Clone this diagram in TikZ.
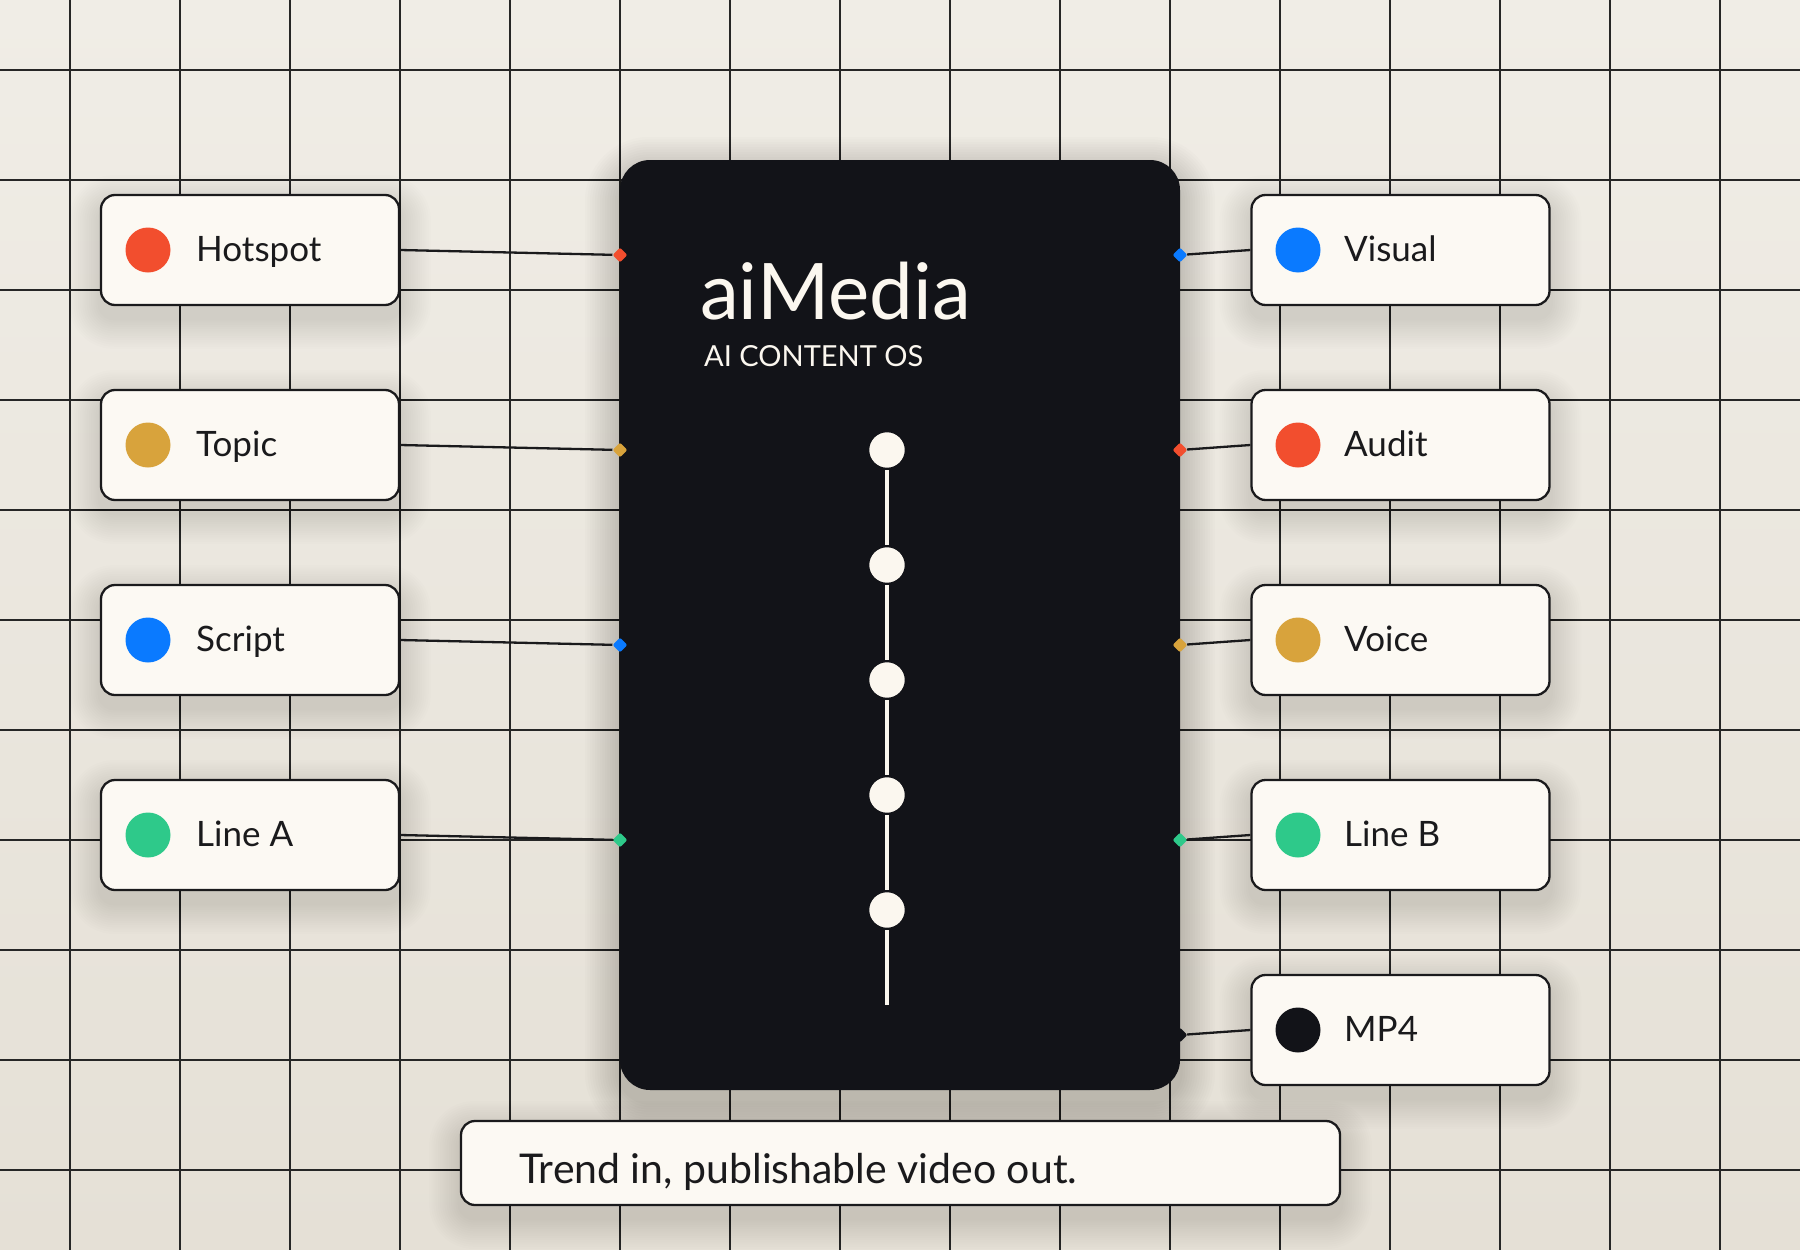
\documentclass[tikz,border=0pt]{standalone}
\usepackage{fontspec}
\setmainfont{Lato}
\usetikzlibrary{shapes.geometric}
\definecolor{bgtop}{HTML}{F0EDE6}
\definecolor{bgbot}{HTML}{E5E0D6}
\definecolor{gridc}{HTML}{262626}
\definecolor{cardfill}{HTML}{FCF9F3}
\definecolor{ink}{HTML}{1A1A1C}
\definecolor{coreblk}{HTML}{121318}
\definecolor{cream}{HTML}{FBF7EF}
\definecolor{cred}{HTML}{F24E2E}
\definecolor{cgold}{HTML}{D8A33C}
\definecolor{cblue}{HTML}{0A7AFF}
\definecolor{cgreen}{HTML}{2EC98A}
\pgfdeclarelayer{bgl}
\pgfdeclarelayer{shl}
\pgfsetlayers{bgl,shl,main}
\tikzset{
  gridline/.style={draw=gridc, line width=1.05pt},
  card/.style={draw=ink, line width=2.3pt, fill=cardfill, rounded corners=14pt,
    minimum width=298pt, minimum height=110pt, inner sep=0pt},
  corebox/.style={fill=coreblk, rounded corners=30pt, minimum width=560pt, minimum height=930pt, inner sep=0pt},
  dot/.style={circle, fill=#1, minimum size=45pt, inner sep=0pt},
  port/.style={diamond, fill=#1, minimum size=15pt, inner sep=0pt, rounded corners=2pt},
  wire/.style={draw=ink, line width=2.3pt},
  lbl/.style={anchor=base west, inner sep=0pt, text=ink, font=\fontsize{35pt}{42pt}\selectfont},
  stepdot/.style={circle, fill=cream, draw=coreblk, line width=2.5pt, minimum size=38pt, inner sep=0pt},
  rail/.style={draw=cream, line width=4pt},
}
% soft shadow: #1 node, #2 corner radius, #3 downward offset, #4 spread per step, #5 opacity per step
\newcommand\softshadow[5]{%
  \foreach \k in {1,...,14}{%
    \pgfmathsetmacro\rr{#2+#4*\k}%
    \pgfmathsetmacro\dd{#4*\k}%
    \fill[black, opacity=#5, rounded corners=\rr pt]
      ([shift={(-\dd,#3-\dd)}]#1.north west) rectangle ([shift={(\dd,#3+\dd)}]#1.south east);
  }}
\begin{document}
\begin{tikzpicture}[x=1pt,y=-1pt]
\useasboundingbox (0,0) rectangle (1800,1250);
\begin{pgfonlayer}{bgl}
\shade[top color=bgtop, bottom color=bgbot] (0,0) rectangle (1800,1250);
\foreach \i in {0,...,15} \draw[gridline] (70+110*\i,0) -- (70+110*\i,1250);
\foreach \j in {0,...,10} \draw[gridline] (0,70+110*\j) -- (1800,70+110*\j);
\end{pgfonlayer}

% central core
\node[corebox] (core) at (900,625) {};
\node[anchor=base west, inner sep=0pt, text=cream, font=\fontsize{78pt}{90pt}\selectfont] (title) at (700,319) {aiMedia};
\node[anchor=base west, inner sep=0pt, text=cream, font=\fontsize{29pt}{34pt}\selectfont] (subtitle) at (704,366) {AI CONTENT OS};

% timeline
\node[stepdot] (t1) at (887,450) {};
\node[stepdot] (t2) at (887,565) {};
\node[stepdot] (t3) at (887,680) {};
\node[stepdot] (t4) at (887,795) {};
\node[stepdot] (t5) at (887,910) {};
\coordinate (tend) at (887,1005);
\draw[rail] (t1) -- (t2);
\draw[rail] (t2) -- (t3);
\draw[rail] (t3) -- (t4);
\draw[rail] (t4) -- (t5);
\draw[rail] (t5) -- (tend);

% left cards
\node[card] (hotspot) at (250,250) {};
\node[dot=cred] (dhotspot) at (148,250) {};
\node[lbl] (lhotspot) at (196,261) {Hotspot};
\node[card] (topic) at (250,445) {};
\node[dot=cgold] (dtopic) at (148,445) {};
\node[lbl] (ltopic) at (196,456) {Topic};
\node[card] (script) at (250,640) {};
\node[dot=cblue] (dscript) at (148,640) {};
\node[lbl] (lscript) at (196,651) {Script};
\node[card] (linea) at (250,835) {};
\node[dot=cgreen] (dlinea) at (148,835) {};
\node[lbl] (llinea) at (196,846) {Line A};

% right cards
\node[card] (visual) at (1400.5,250) {};
\node[dot=cblue] (dvisual) at (1298,250) {};
\node[lbl] (lvisual) at (1344,261) {Visual};
\node[card] (audit) at (1400.5,445) {};
\node[dot=cred] (daudit) at (1298,445) {};
\node[lbl] (laudit) at (1344,456) {Audit};
\node[card] (voice) at (1400.5,640) {};
\node[dot=cgold] (dvoice) at (1298,640) {};
\node[lbl] (lvoice) at (1344,651) {Voice};
\node[card] (lineb) at (1400.5,835) {};
\node[dot=cgreen] (dlineb) at (1298,835) {};
\node[lbl] (llineb) at (1344,846) {Line B};
\node[card] (mp4) at (1400.5,1030) {};
\node[dot=coreblk] (dmp4) at (1298,1030) {};
\node[lbl] (lmp4) at (1344,1041) {MP4};

% caption
\node[card, minimum width=879pt, minimum height=84pt] (caption) at (900.5,1163) {};
\node[anchor=base west, inner sep=0pt, text=ink, font=\fontsize{41pt}{48pt}\selectfont] (captext) at (519,1183) {Trend in, publishable video out.};

% shadows
\begin{pgfonlayer}{shl}
\softshadow{core}{30}{12}{2.5}{0.012}
\foreach \n in {hotspot,topic,script,linea,visual,audit,voice,lineb,mp4,caption}{
  \softshadow{\n}{14}{12}{2.2}{0.007}
}
\end{pgfonlayer}

% ports
\node[port=cred] (p1) at (620,255) {};
\node[port=cgold] (p2) at (620,450) {};
\node[port=cblue] (p3) at (620,645) {};
\node[port=cgreen] (p4) at (620,840) {};
\node[port=cblue] (q1) at (1180,255) {};
\node[port=cred] (q2) at (1180,450) {};
\node[port=cgold] (q3) at (1180,645) {};
\node[port=cgreen] (q4) at (1180,840) {};
\node[port=coreblk] (q5) at (1180,1035) {};

% connectors
\draw[wire] (hotspot.east) -- (p1);
\draw[wire] (topic.east) -- (p2);
\draw[wire] (script.east) -- (p3);
\draw[wire] (linea.east) -- (p4);
\draw[wire] (visual.west) -- (q1);
\draw[wire] (audit.west) -- (q2);
\draw[wire] (voice.west) -- (q3);
\draw[wire] (lineb.west) -- (q4);
\draw[wire] (mp4.west) -- (q5);
\end{tikzpicture}
\end{document}
